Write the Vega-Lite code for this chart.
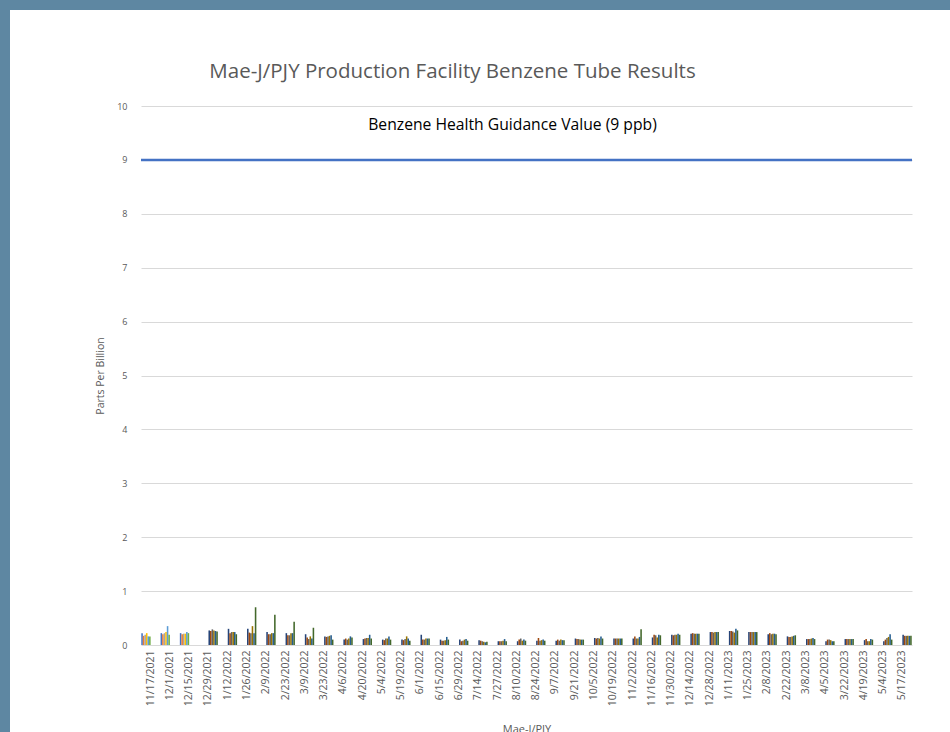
{
  "$schema": "https://vega.github.io/schema/vega-lite/v6.json",
  "padding": 0,
  "background": "white",
  "config": {"view": {"stroke": null}, "font": "Open Sans"},
  "datasets": {
    "tubes": [
      {"d":"11/17/2021","s":"A1","v":0.22},{"d":"11/17/2021","s":"A2","v":0.17},{"d":"11/17/2021","s":"A3","v":0.19},{"d":"11/17/2021","s":"A4","v":0.22},{"d":"11/17/2021","s":"A5","v":0.16},{"d":"11/17/2021","s":"A6","v":0.16},
      {"d":"12/1/2021","s":"A1","v":0.22},{"d":"12/1/2021","s":"A2","v":0.2},{"d":"12/1/2021","s":"A3","v":0.22},{"d":"12/1/2021","s":"A4","v":0.24},{"d":"12/1/2021","s":"A5","v":0.35},{"d":"12/1/2021","s":"A6","v":0.19},
      {"d":"12/15/2021","s":"A1","v":0.22},{"d":"12/15/2021","s":"A2","v":0.2},{"d":"12/15/2021","s":"A3","v":0.21},{"d":"12/15/2021","s":"A4","v":0.21},{"d":"12/15/2021","s":"A5","v":0.24},{"d":"12/15/2021","s":"A6","v":0.22},
      {"d":"12/29/2021","s":"B1","v":0.27},{"d":"12/29/2021","s":"B2","v":0.26},{"d":"12/29/2021","s":"B3","v":0.29},{"d":"12/29/2021","s":"B4","v":0.27},{"d":"12/29/2021","s":"B5","v":0.26},{"d":"12/29/2021","s":"B6","v":0.25},
      {"d":"1/12/2022","s":"B1","v":0.3},{"d":"1/12/2022","s":"B2","v":0.22},{"d":"1/12/2022","s":"B3","v":0.24},{"d":"1/12/2022","s":"B4","v":0.24},{"d":"1/12/2022","s":"B5","v":0.24},{"d":"1/12/2022","s":"B6","v":0.2},
      {"d":"1/26/2022","s":"B1","v":0.3},{"d":"1/26/2022","s":"B2","v":0.23},{"d":"1/26/2022","s":"B3","v":0.22},{"d":"1/26/2022","s":"B4","v":0.35},{"d":"1/26/2022","s":"B5","v":0.22},{"d":"1/26/2022","s":"B6","v":0.7},
      {"d":"2/9/2022","s":"B1","v":0.24},{"d":"2/9/2022","s":"B2","v":0.2},{"d":"2/9/2022","s":"B3","v":0.2},{"d":"2/9/2022","s":"B4","v":0.22},{"d":"2/9/2022","s":"B5","v":0.22},{"d":"2/9/2022","s":"B6","v":0.56},
      {"d":"2/23/2022","s":"B1","v":0.22},{"d":"2/23/2022","s":"B2","v":0.18},{"d":"2/23/2022","s":"B3","v":0.18},{"d":"2/23/2022","s":"B4","v":0.22},{"d":"2/23/2022","s":"B5","v":0.22},{"d":"2/23/2022","s":"B6","v":0.43},
      {"d":"3/9/2022","s":"B1","v":0.2},{"d":"3/9/2022","s":"B2","v":0.14},{"d":"3/9/2022","s":"B3","v":0.11},{"d":"3/9/2022","s":"B4","v":0.16},{"d":"3/9/2022","s":"B5","v":0.12},{"d":"3/9/2022","s":"B6","v":0.32},
      {"d":"3/23/2022","s":"B1","v":0.16},{"d":"3/23/2022","s":"B2","v":0.15},{"d":"3/23/2022","s":"B3","v":0.16},{"d":"3/23/2022","s":"B4","v":0.17},{"d":"3/23/2022","s":"B5","v":0.18},{"d":"3/23/2022","s":"B6","v":0.1},
      {"d":"4/6/2022","s":"B1","v":0.1},{"d":"4/6/2022","s":"B2","v":0.12},{"d":"4/6/2022","s":"B3","v":0.1},{"d":"4/6/2022","s":"B4","v":0.12},{"d":"4/6/2022","s":"B5","v":0.16},{"d":"4/6/2022","s":"B6","v":0.14},
      {"d":"4/20/2022","s":"B1","v":0.11},{"d":"4/20/2022","s":"B2","v":0.12},{"d":"4/20/2022","s":"B3","v":0.13},{"d":"4/20/2022","s":"B4","v":0.13},{"d":"4/20/2022","s":"B5","v":0.19},{"d":"4/20/2022","s":"B6","v":0.12},
      {"d":"5/4/2022","s":"B1","v":0.1},{"d":"5/4/2022","s":"B2","v":0.09},{"d":"5/4/2022","s":"B3","v":0.12},{"d":"5/4/2022","s":"B4","v":0.12},{"d":"5/4/2022","s":"B5","v":0.16},{"d":"5/4/2022","s":"B6","v":0.1},
      {"d":"5/19/2022","s":"B1","v":0.1},{"d":"5/19/2022","s":"B2","v":0.09},{"d":"5/19/2022","s":"B3","v":0.11},{"d":"5/19/2022","s":"B4","v":0.16},{"d":"5/19/2022","s":"B5","v":0.12},{"d":"5/19/2022","s":"B6","v":0.08},
      {"d":"6/1/2022","s":"B1","v":0.19},{"d":"6/1/2022","s":"B2","v":0.1},{"d":"6/1/2022","s":"B3","v":0.1},{"d":"6/1/2022","s":"B4","v":0.12},{"d":"6/1/2022","s":"B5","v":0.12},{"d":"6/1/2022","s":"B6","v":0.12},
      {"d":"6/15/2022","s":"B1","v":0.1},{"d":"6/15/2022","s":"B2","v":0.08},{"d":"6/15/2022","s":"B3","v":0.08},{"d":"6/15/2022","s":"B4","v":0.09},{"d":"6/15/2022","s":"B5","v":0.15},{"d":"6/15/2022","s":"B6","v":0.1},
      {"d":"6/29/2022","s":"B1","v":0.1},{"d":"6/29/2022","s":"B2","v":0.07},{"d":"6/29/2022","s":"B3","v":0.08},{"d":"6/29/2022","s":"B4","v":0.1},{"d":"6/29/2022","s":"B5","v":0.11},{"d":"6/29/2022","s":"B6","v":0.08},
      {"d":"7/14/2022","s":"B1","v":0.09},{"d":"7/14/2022","s":"B2","v":0.08},{"d":"7/14/2022","s":"B3","v":0.07},{"d":"7/14/2022","s":"B4","v":0.06},{"d":"7/14/2022","s":"B5","v":0.05},{"d":"7/14/2022","s":"B6","v":0.06},
      {"d":"7/27/2022","s":"B1","v":0.07},{"d":"7/27/2022","s":"B2","v":0.07},{"d":"7/27/2022","s":"B3","v":0.07},{"d":"7/27/2022","s":"B4","v":0.08},{"d":"7/27/2022","s":"B5","v":0.11},{"d":"7/27/2022","s":"B6","v":0.07},
      {"d":"8/10/2022","s":"B1","v":0.07},{"d":"8/10/2022","s":"B2","v":0.1},{"d":"8/10/2022","s":"B3","v":0.12},{"d":"8/10/2022","s":"B4","v":0.08},{"d":"8/10/2022","s":"B5","v":0.1},{"d":"8/10/2022","s":"B6","v":0.08},
      {"d":"8/24/2022","s":"B1","v":0.08},{"d":"8/24/2022","s":"B2","v":0.13},{"d":"8/24/2022","s":"B3","v":0.08},{"d":"8/24/2022","s":"B4","v":0.09},{"d":"8/24/2022","s":"B5","v":0.1},{"d":"8/24/2022","s":"B6","v":0.08},
      {"d":"9/7/2022","s":"B1","v":0.08},{"d":"9/7/2022","s":"B2","v":0.1},{"d":"9/7/2022","s":"B3","v":0.08},{"d":"9/7/2022","s":"B4","v":0.1},{"d":"9/7/2022","s":"B5","v":0.09},{"d":"9/7/2022","s":"B6","v":0.09},
      {"d":"9/21/2022","s":"B1","v":0.12},{"d":"9/21/2022","s":"B2","v":0.11},{"d":"9/21/2022","s":"B3","v":0.11},{"d":"9/21/2022","s":"B4","v":0.1},{"d":"9/21/2022","s":"B5","v":0.1},{"d":"9/21/2022","s":"B6","v":0.1},
      {"d":"10/5/2022","s":"B1","v":0.13},{"d":"10/5/2022","s":"B2","v":0.12},{"d":"10/5/2022","s":"B3","v":0.13},{"d":"10/5/2022","s":"B4","v":0.12},{"d":"10/5/2022","s":"B5","v":0.16},{"d":"10/5/2022","s":"B6","v":0.12},
      {"d":"10/19/2022","s":"B1","v":0.12},{"d":"10/19/2022","s":"B2","v":0.12},{"d":"10/19/2022","s":"B3","v":0.12},{"d":"10/19/2022","s":"B4","v":0.12},{"d":"10/19/2022","s":"B5","v":0.12},{"d":"10/19/2022","s":"B6","v":0.12},
      {"d":"11/2/2022","s":"B1","v":0.12},{"d":"11/2/2022","s":"B2","v":0.16},{"d":"11/2/2022","s":"B3","v":0.12},{"d":"11/2/2022","s":"B4","v":0.12},{"d":"11/2/2022","s":"B5","v":0.15},{"d":"11/2/2022","s":"B6","v":0.29},
      {"d":"11/16/2022","s":"B1","v":0.14},{"d":"11/16/2022","s":"B2","v":0.19},{"d":"11/16/2022","s":"B3","v":0.18},{"d":"11/16/2022","s":"B4","v":0.14},{"d":"11/16/2022","s":"B5","v":0.19},{"d":"11/16/2022","s":"B6","v":0.18},
      {"d":"11/30/2022","s":"B1","v":0.19},{"d":"11/30/2022","s":"B2","v":0.18},{"d":"11/30/2022","s":"B3","v":0.19},{"d":"11/30/2022","s":"B4","v":0.19},{"d":"11/30/2022","s":"B5","v":0.21},{"d":"11/30/2022","s":"B6","v":0.19},
      {"d":"12/14/2022","s":"B1","v":0.21},{"d":"12/14/2022","s":"B2","v":0.22},{"d":"12/14/2022","s":"B3","v":0.21},{"d":"12/14/2022","s":"B4","v":0.21},{"d":"12/14/2022","s":"B5","v":0.21},{"d":"12/14/2022","s":"B6","v":0.21},
      {"d":"12/28/2022","s":"B1","v":0.24},{"d":"12/28/2022","s":"B2","v":0.24},{"d":"12/28/2022","s":"B3","v":0.23},{"d":"12/28/2022","s":"B4","v":0.24},{"d":"12/28/2022","s":"B5","v":0.24},{"d":"12/28/2022","s":"B6","v":0.24},
      {"d":"1/11/2023","s":"B1","v":0.26},{"d":"1/11/2023","s":"B2","v":0.26},{"d":"1/11/2023","s":"B3","v":0.25},{"d":"1/11/2023","s":"B4","v":0.23},{"d":"1/11/2023","s":"B5","v":0.3},{"d":"1/11/2023","s":"B6","v":0.27},
      {"d":"1/25/2023","s":"B1","v":0.24},{"d":"1/25/2023","s":"B2","v":0.24},{"d":"1/25/2023","s":"B3","v":0.24},{"d":"1/25/2023","s":"B4","v":0.24},{"d":"1/25/2023","s":"B5","v":0.24},{"d":"1/25/2023","s":"B6","v":0.24},
      {"d":"2/8/2023","s":"B1","v":0.2},{"d":"2/8/2023","s":"B2","v":0.22},{"d":"2/8/2023","s":"B3","v":0.2},{"d":"2/8/2023","s":"B4","v":0.21},{"d":"2/8/2023","s":"B5","v":0.21},{"d":"2/8/2023","s":"B6","v":0.2},
      {"d":"2/22/2023","s":"B1","v":0.16},{"d":"2/22/2023","s":"B2","v":0.15},{"d":"2/22/2023","s":"B3","v":0.15},{"d":"2/22/2023","s":"B4","v":0.16},{"d":"2/22/2023","s":"B5","v":0.17},{"d":"2/22/2023","s":"B6","v":0.18},
      {"d":"3/8/2023","s":"B1","v":0.11},{"d":"3/8/2023","s":"B2","v":0.11},{"d":"3/8/2023","s":"B3","v":0.11},{"d":"3/8/2023","s":"B4","v":0.12},{"d":"3/8/2023","s":"B5","v":0.13},{"d":"3/8/2023","s":"B6","v":0.11},
      {"d":"4/5/2023","s":"B1","v":0.07},{"d":"4/5/2023","s":"B2","v":0.1},{"d":"4/5/2023","s":"B3","v":0.1},{"d":"4/5/2023","s":"B4","v":0.09},{"d":"4/5/2023","s":"B5","v":0.07},{"d":"4/5/2023","s":"B6","v":0.07},
      {"d":"3/22/2023","s":"B1","v":0.11},{"d":"3/22/2023","s":"B2","v":0.11},{"d":"3/22/2023","s":"B3","v":0.11},{"d":"3/22/2023","s":"B4","v":0.11},{"d":"3/22/2023","s":"B5","v":0.11},{"d":"3/22/2023","s":"B6","v":0.11},
      {"d":"4/19/2023","s":"B1","v":0.09},{"d":"4/19/2023","s":"B2","v":0.11},{"d":"4/19/2023","s":"B3","v":0.07},{"d":"4/19/2023","s":"B4","v":0.07},{"d":"4/19/2023","s":"B5","v":0.11},{"d":"4/19/2023","s":"B6","v":0.1},
      {"d":"5/4/2023","s":"B1","v":0.07},{"d":"5/4/2023","s":"B2","v":0.1},{"d":"5/4/2023","s":"B3","v":0.13},{"d":"5/4/2023","s":"B4","v":0.15},{"d":"5/4/2023","s":"B5","v":0.2},{"d":"5/4/2023","s":"B6","v":0.1},
      {"d":"5/17/2023","s":"B1","v":0.19},{"d":"5/17/2023","s":"B2","v":0.17},{"d":"5/17/2023","s":"B3","v":0.17},{"d":"5/17/2023","s":"B4","v":0.17},{"d":"5/17/2023","s":"B5","v":0.17},{"d":"5/17/2023","s":"B6","v":0.17}
    ],
    "guidance": [{"limit": 9, "label": "Benzene Health Guidance Value (9 ppb)", "labelPos": 9.65}]
  },
  "bounds": "flush",
  "spacing": 0,
  "hconcat": [
    {
      "width": 10, "height": 732,
      "data": {"values": []},
      "mark": {"type": "rect", "opacity": 0},
      "encoding": {},
      "view": {"fill": "#5E87A2", "stroke": null}
    },
    {
      "bounds": "flush",
      "spacing": 96,
      "vconcat": [
        {
          "width": 940, "height": 10,
          "data": {"values": []},
          "mark": {"type": "rect", "opacity": 0},
          "encoding": {},
          "view": {"fill": "#5E87A2", "stroke": null}
        },
        {
          "bounds": "flush",
          "spacing": 130,
          "hconcat": [
            {
              "width": 1, "height": 1,
              "data": {"values": []},
              "mark": {"type": "rect", "opacity": 0},
              "encoding": {},
              "view": {"stroke": null}
            },
            {
              "width": 771, "height": 539,
              "title": {"text": "Mae-J/PJY Production Facility Benzene Tube Results", "font": "Open Sans", "fontSize": 20.5, "fontWeight": "normal", "color": "#595959", "anchor": "middle", "dx": -74, "offset": 20},
              "layer": [
                {
                  "data": {"name": "tubes"},
                  "mark": {"type": "bar"},
                  "encoding": {
                    "x": {"field": "d", "type": "nominal", "sort": null,
                      "scale": {"paddingInner": 0.03, "paddingOuter": 0.015},
                      "axis": {"labelAngle": -90, "labelFontSize": 10.5, "labelColor": "#595959", "ticks": false, "domain": false, "labelPadding": 5, "title": "Mae-J/PJY", "titleFontSize": 11, "titleFontWeight": "normal", "titleColor": "#595959", "titlePadding": 18}},
                    "xOffset": {"field": "s", "type": "nominal", "scale": {"domain": ["A1","A2","A3","A4","A5","A6","B1","B2","B3","B4","B5","B6"], "paddingInner": 0, "paddingOuter": 0}},
                    "y": {"field": "v", "type": "quantitative", "scale": {"domain": [0, 10]},
                      "axis": {"tickCount": 10, "grid": true, "gridColor": "#D9D9D9", "domain": false, "ticks": false, "labelFontSize": 9, "labelColor": "#595959", "labelPadding": 14, "title": "Parts Per Billion", "titleFontSize": 10.5, "titleFontWeight": "normal", "titleColor": "#595959", "titlePadding": 11}},
                    "color": {"field": "s", "type": "nominal", "legend": null,
                      "scale": {"domain": ["A1","A2","A3","A4","A5","A6","B1","B2","B3","B4","B5","B6"],
                        "range": ["#4472C4","#ED7D31","#A5A5A5","#FFC000","#5B9BD5","#70AD47","#264478","#9E480E","#636363","#997300","#255E91","#43682B"]}}
                  }
                },
                {
                  "data": {"name": "guidance"},
                  "mark": {"type": "rule", "color": "#4472C4", "strokeWidth": 2.5},
                  "encoding": {"y": {"field": "limit", "type": "quantitative"}}
                },
                {
                  "data": {"name": "guidance"},
                  "mark": {"type": "text", "font": "Open Sans", "fontSize": 15.7, "color": "#000000", "baseline": "middle", "dx": -14},
                  "encoding": {"y": {"field": "labelPos", "type": "quantitative"}, "text": {"field": "label"}}
                }
              ]
            }
          ]
        }
      ]
    }
  ]
}
